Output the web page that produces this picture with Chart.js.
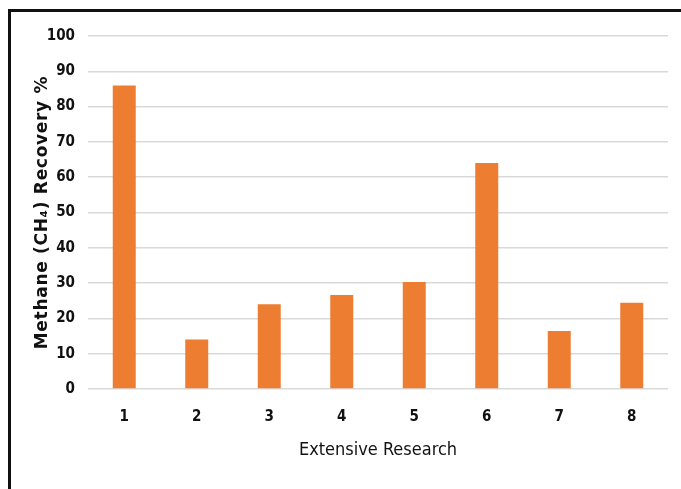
<!DOCTYPE html>
<html>
<head>
<meta charset="utf-8">
<script src="https://cdn.jsdelivr.net/npm/chart.js@4"></script>
<style>
  html, body { margin: 0; padding: 0; background: #fff; overflow: hidden; }
  #wrap { position: relative; width: 681px; height: 489px; }
  #frame {
    position: absolute; left: 8px; top: 9px; width: 700px; height: 520px;
    border: 3px solid #111; box-sizing: border-box; pointer-events: none;
  }
  canvas { position: absolute; left: 0; top: 0; }
</style>
</head>
<body>
<div id="wrap">
  <canvas id="c" width="681" height="489"></canvas>
  <div id="frame"></div>
</div>
<script>
// Studies compared on the horizontal axis
const categories = ['1', '2', '3', '4', '5', '6', '7', '8'];
// Methane recovery reported by each study (%)
const recovery = [86, 14, 24, 26.6, 30.3, 64, 16.4, 24.4];
// Value-axis ticks
const yTicks = [0, 10, 20, 30, 40, 50, 60, 70, 80, 90, 100];

const xTitle = 'Extensive Research';
const yTitle = 'Methane (CH\u2084) Recovery %';

const tickFont = { family: '"Liberation Sans Narrow", "DejaVu Sans Condensed", sans-serif', size: 15, weight: 'bold' };

// Rotated value-axis title in a heavy, wide face
const yTitlePlugin = {
  id: 'yTitle',
  afterDraw(chart) {
    const { ctx, chartArea } = chart;
    ctx.save();
    ctx.translate(42.5, (chartArea.top + chartArea.bottom) / 2);
    ctx.rotate(-Math.PI / 2);
    ctx.font = 'bold 17px "DejaVu Sans", Verdana, sans-serif';
    ctx.letterSpacing = '0.7px';
    ctx.fillStyle = '#111';
    ctx.textAlign = 'center';
    ctx.textBaseline = 'middle';
    ctx.fillText(yTitle, 0, 0);
    ctx.restore();
  }
};

new Chart(document.getElementById('c'), {
  type: 'bar',
  data: {
    labels: categories,
    datasets: [{
      data: recovery,
      backgroundColor: '#ED7D31',
      borderWidth: 0,
      categoryPercentage: 1,
      barPercentage: 0.317
    }]
  },
  options: {
    responsive: false,
    animation: false,
    events: [],
    layout: { padding: { left: 0, top: 36, right: 13, bottom: 0 } },
    plugins: { legend: { display: false }, tooltip: { enabled: false } },
    scales: {
      x: {
        grid: { display: false, drawTicks: false },
        border: { display: false },
        ticks: { font: tickFont, color: '#111', padding: 19, maxRotation: 0 },
        title: {
          display: true,
          text: xTitle,
          color: '#111',
          font: { family: '"Liberation Sans Narrow", "DejaVu Sans Condensed", sans-serif', size: 18 },
          padding: { top: 0, bottom: 28 }
        },
        afterFit(scale) { scale.height = 100; }
      },
      y: {
        min: 0,
        max: 100,
        afterBuildTicks(scale) { scale.ticks = yTicks.map(v => ({ value: v })); },
        grid: { color: '#d9d9d9', lineWidth: 1.5, drawTicks: false },
        border: { display: false },
        ticks: { font: tickFont, color: '#111', padding: 13 },
        afterFit(scale) { scale.width = 88; }
      }
    }
  },
  plugins: [yTitlePlugin]
});
</script>
</body>
</html>
